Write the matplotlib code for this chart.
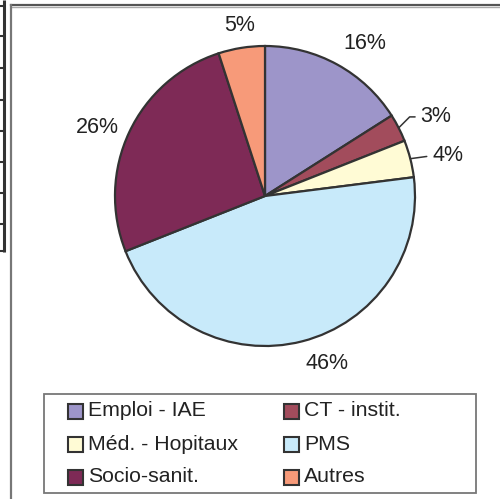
import numpy as np
import matplotlib
matplotlib.use("Agg")
import matplotlib.pyplot as plt
from matplotlib.patches import Rectangle

plt.rcParams['font.family'] = ['Liberation Sans', 'DejaVu Sans']

# data
categories = ["Emploi - IAE", "CT - instit.", "Méd. - Hopitaux", "PMS", "Socio-sanit.", "Autres"]
shares = [16, 3, 4, 46, 26, 5]
colors = ["#9D95C9", "#A24C5C", "#FFFBD5", "#C8EAFA", "#7E2A56", "#F79A79"]
pct_labels = ["%d%%" % v for v in shares]
leader_slices = [1, 2]   # small slices get a leader line

# canvas in pixel units (y flipped: H - y_px)
W, H = 500, 499
cx, cy, R = 265, H - 196, 150
txt_col = "#222222"
edge_col = "#333333"
pct_size = 15.5

fig = plt.figure(figsize=(W / 100, H / 100), dpi=100)
ax = fig.add_axes([0, 0, 1, 1])
ax.set_xlim(0, W)
ax.set_ylim(0, H)
ax.set_aspect("equal")
ax.axis("off")

# bits of the neighbouring table on the left edge
ax.plot([4, 4], [H, H - 252], color="#333333", lw=2.2, solid_capstyle="butt")
for yy in [6, 36, 68, 100, 131, 162, 193, 224, 251]:
    ax.plot([0, 4], [H - yy, H - yy], color="#333333", lw=1.5)

# chart area frame (top + left only visible)
ax.plot([11, W], [H - 5, H - 5], color="#555555", lw=1.6)
ax.plot([11, W], [H - 6.5, H - 6.5], color="#aaaaaa", lw=1.0)
ax.plot([11, 11], [H - 5, 0], color="#777777", lw=1.6)

# pie
wedges, _ = ax.pie(shares, colors=colors, startangle=90, counterclock=False,
                   center=(cx, cy), radius=R,
                   wedgeprops=dict(edgecolor=edge_col, linewidth=1.6))
ax.set_xlim(0, W)
ax.set_ylim(0, H)

# percentage labels
for i, w in enumerate(wedges):
    mid = np.deg2rad((w.theta1 + w.theta2) / 2)
    c, s = np.cos(mid), np.sin(mid)
    if i in leader_slices:
        rx, ry = cx + R * c, cy + R * s
        if i == 1:
            tx, ty = rx + 22, ry + 11
            conn = "angle,angleA=0,angleB=45,rad=0"
        else:
            tx, ty = rx + 22, ry + 3
            conn = "arc3,rad=0"
        ax.annotate(pct_labels[i], xy=(rx, ry), xytext=(tx, ty),
                    ha="left", va="center", fontsize=pct_size, color=txt_col,
                    arrowprops=dict(arrowstyle="-", color=edge_col, lw=1.1,
                                    shrinkA=2, shrinkB=0,
                                    connectionstyle=conn, relpos=(0, 0.5)))
        continue
    d = 1.08 * R
    ax_ = cx + d * c
    ay_ = cy + d * s
    ha = "center" if abs(c) < 0.2 else ("left" if c > 0 else "right")
    va = "center" if abs(s) < 0.5 else ("bottom" if s > 0 else "top")
    ax.text(ax_, ay_, pct_labels[i], ha=ha, va=va, fontsize=pct_size, color=txt_col)

# legend box
ax.add_patch(Rectangle((44, H - 493), 432, 99, facecolor="white",
                       edgecolor="#777777", lw=1.3))
col_x = [68, 284]
row_y = [411, 444, 477]
for i, (lab, col) in enumerate(zip(categories, colors)):
    x0 = col_x[i % 2]
    y0 = H - row_y[i // 2]
    ax.add_patch(Rectangle((x0, y0 - 7.5), 15, 15, facecolor=col,
                           edgecolor=edge_col, lw=1.5))
    ax.text(x0 + 20, y0, lab, ha="left", va="center", fontsize=15.3, color=txt_col)

fig.savefig("out.png", dpi=100)
